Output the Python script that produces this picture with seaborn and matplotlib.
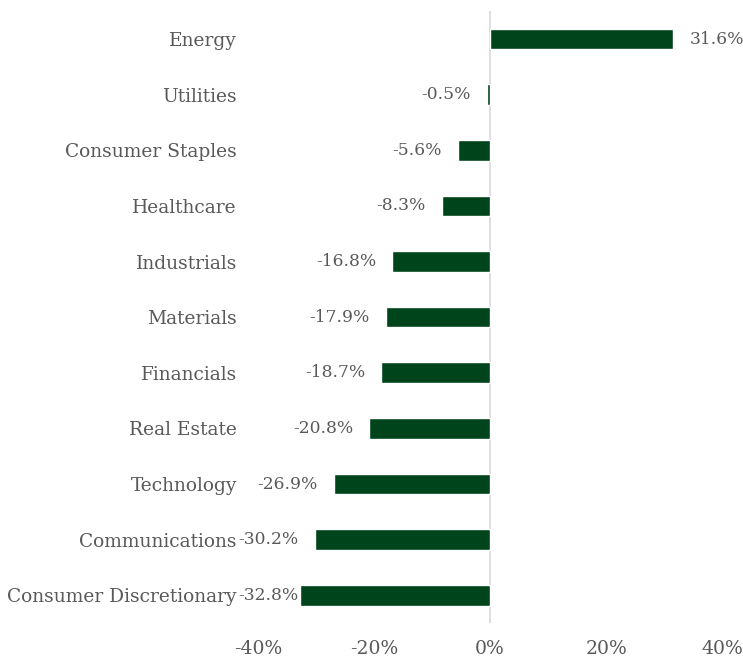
import matplotlib
matplotlib.use("Agg")
import matplotlib.pyplot as plt
import seaborn as sns
import pandas as pd

sectors = [
    "Energy", "Utilities", "Consumer Staples", "Healthcare", "Industrials",
    "Materials", "Financials", "Real Estate", "Technology",
    "Communications", "Consumer Discretionary",
]
returns = [31.6, -0.5, -5.6, -8.3, -16.8, -17.9, -18.7, -20.8, -26.9, -30.2, -32.8]
tick_values = [-40, -20, 0, 20, 40]
tick_labels = ["-40%", "-20%", "0%", "20%", "40%"]

df = pd.DataFrame({"sector": sectors, "ret": returns})

sns.set_theme(style="white")
plt.rcParams["font.family"] = ["DejaVu Serif"]

text_color = "#595959"
bar_color = "#00441b"

fig = plt.figure(figsize=(7.43, 6.58), dpi=100)
ax = fig.add_axes([0.347, 0.053, 0.625, 0.930])

sns.barplot(data=df, x="ret", y="sector", orient="h", color=bar_color,
            width=0.37, saturation=1, ax=ax)

ax.set_xlim(-40, 40)
ax.set_ylim(len(sectors) - 0.5, -0.5)
ax.set_xticks(tick_values)
ax.set_xticklabels(tick_labels, fontsize=13.5, color=text_color)
ax.tick_params(axis="x", length=0, pad=12)
ax.tick_params(axis="y", length=0, pad=15, labelsize=13.4, labelcolor=text_color)
ax.set_xlabel("")
ax.set_ylabel("")
for s in ax.spines.values():
    s.set_visible(False)
ax.axvline(0, color="#d9d9d9", lw=1.2, zorder=0)

# value labels outside the bar ends
px_per_unit = 580 / 100.0
gap = 16 / px_per_unit
for i, v in enumerate(returns):
    if v >= 0:
        ax.text(v + gap, i, f"{v:.1f}%", ha="left", va="center",
                fontsize=12.3, color=text_color)
    else:
        x = max(v - gap, -33.0)
        ax.text(x, i, f"{v:.1f}%", ha="right", va="center",
                fontsize=12.3, color=text_color)

fig.savefig("out.png", dpi=100)
